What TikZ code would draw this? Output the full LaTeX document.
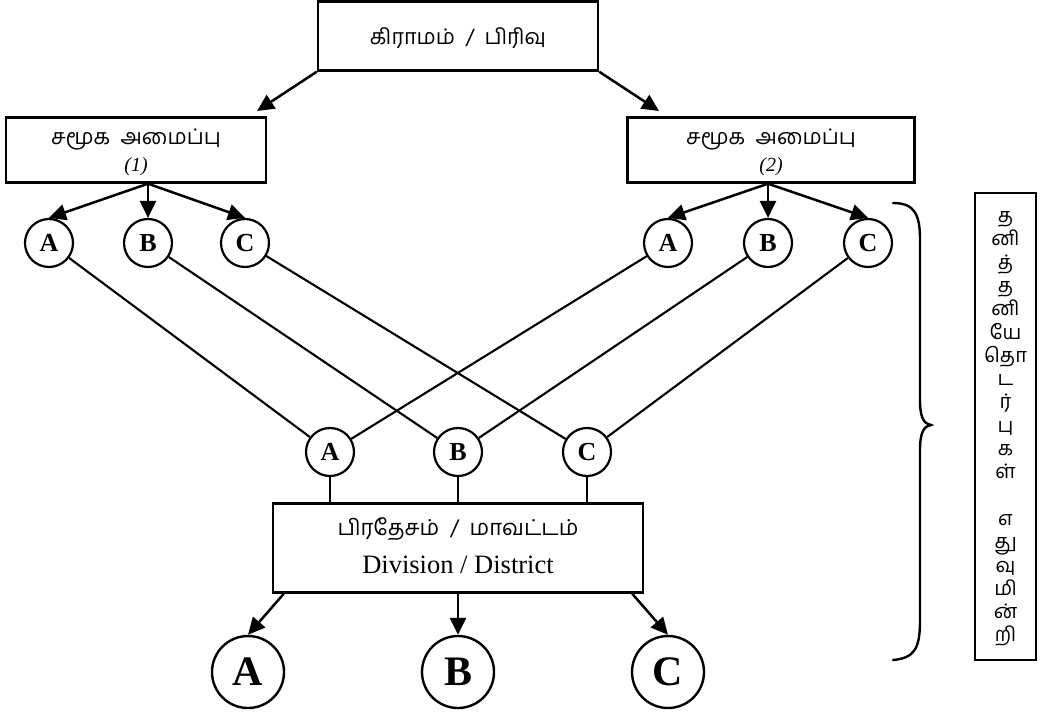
\documentclass[tikz,border=0pt]{standalone}
\usepackage{fontspec}
\setmainfont{Liberation Serif}
\newfontfamily\tamil[Script=Tamil]{Hind Madurai}
\usetikzlibrary{arrows.meta,calc}
\begin{document}
\begin{tikzpicture}[x={(1pt,0)},y={(0,-1pt)},
  box/.style={draw, rectangle, line width=2.4pt, inner sep=0pt, align=center},
  tam/.style={font=\tamil\fontsize{21.5}{26}\selectfont, inner sep=0pt},
  num/.style={font=\itshape\fontsize{20}{22}\selectfont, inner sep=0pt},
  small/.style={draw, circle, line width=2.2pt, minimum size=48pt, inner sep=0pt,
                font=\fontsize{26}{26}\selectfont\bfseries},
  big/.style={draw, circle, line width=2.4pt, minimum size=72pt, inner sep=0pt,
              font=\fontsize{42}{42}\selectfont\bfseries},
  link/.style={line width=2.1pt},
  arr/.style={line width=2.5pt, -{Triangle[length=17pt,width=16pt]}}]

\useasboundingbox (0,0) rectangle (1040,714);
\fill[white] (0,0) rectangle (1040,714);

% top level
\node[box, minimum width=280pt, minimum height=69pt] (top) at (458,36) {};
\node[tam] (topt) at (458,38) {கிராமம்~\ /~\ பிரிவு};

% two community structures
\node[box, minimum width=260pt, minimum height=65pt] (sa1) at (136,150) {};
\node[tam] (sa1t) at (136,139) {சமூக~~அமைப்பு};
\node[num] (sa1n) at (136,167) {(1)};
\node[box, minimum width=287pt, minimum height=65pt] (sa2) at (771,150) {};
\node[tam] (sa2t) at (771,139) {சமூக~~அமைப்பு};
\node[num] (sa2n) at (771,167) {(2)};

\coordinate (t1) at (257,111);
\coordinate (t2) at (659,111);
\draw[arr] (top.south west) -- (t1);
\draw[arr] (top.south east) -- (t2);

% first row of circles
\node[small] (la) at (49,243) {A};
\node[small] (lb) at (148,243) {B};
\node[small] (lc) at (245,243) {C};
\node[small] (ra) at (668,243) {A};
\node[small] (rb) at (768,243) {B};
\node[small] (rc) at (868,243) {C};

\draw[arr] (sa1.south -| lb) -- (la.north);
\draw[arr] (sa1.south -| lb) -- (lb.north);
\draw[arr] (sa1.south -| lb) -- (lc.north);
\draw[arr] (sa2.south -| rb) -- (ra.north);
\draw[arr] (sa2.south -| rb) -- (rb.north);
\draw[arr] (sa2.south -| rb) -- (rc.north);

% shared circles
\node[small] (ma) at (330,452) {A};
\node[small] (mb) at (458,452) {B};
\node[small] (mc) at (587,452) {C};

\draw[link] (la) -- (ma);
\draw[link] (lb) -- (mb);
\draw[link] (lc) -- (mc);
\draw[link] (ra) -- (ma);
\draw[link] (rb) -- (mb);
\draw[link] (rc) -- (mc);

% division / district
\node[box, minimum width=370pt, minimum height=89pt] (dist) at (458,548) {};
\node[tam, font=\tamil\fontsize{22}{24}\selectfont] (distt) at (458,529)
  {பிரதேசம்~\ /~\ மாவட்டம்};
\node[inner sep=0pt, font=\fontsize{26.5}{28}\selectfont] (diste) at (458,565)
  {Division / District};

\draw[link] (ma) -- (ma |- dist.north);
\draw[link] (mb) -- (mb |- dist.north);
\draw[link] (mc) -- (mc |- dist.north);

% bottom circles
\node[big] (ba) at (248,672) {A};
\node[big] (bb) at (458,672) {B};
\node[big] (bc) at (668,672) {C};

\draw[arr] ($(dist.south west)+(12,0)$) -- (ba.north);
\draw[arr] (dist.south) -- (bb.north);
\draw[arr] ($(dist.south east)+(-12,0)$) -- (bc.north);

% brace
\draw[line width=2.4pt, line cap=round]
  (893,203) .. controls (915,203) and (920,215) .. (920,240)
  -- (920,400) .. controls (920,418) and (924,424) .. (931,425)
  .. controls (924,426) and (920,432) .. (920,450)
  -- (920,620) .. controls (920,648) and (915,658) .. (893,660);

% side label
\node[box, minimum width=61pt, minimum height=467pt] (side) at (1005.5,426.5) {};
\node[font=\tamil\fontsize{20}{23.3}\selectfont, align=center, inner sep=0pt] (sidetxt) at (1005.5,429)
  {த\\னி\\த்\\த\\னி\\யே\\தொ\\ட\\ர்\\பு\\க\\ள்\\\mbox{}\\எ\\து\\வு\\மி\\ன்\\றி};
\end{tikzpicture}
\end{document}
